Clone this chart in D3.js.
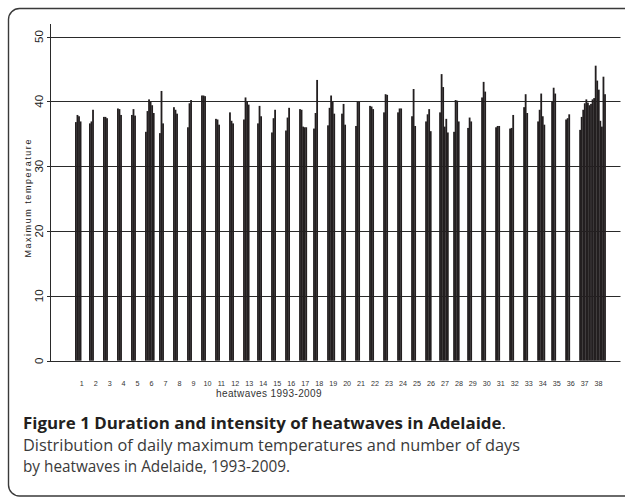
<!DOCTYPE html>
<html>
<head>
<meta charset="utf-8">
<script src="https://cdn.jsdelivr.net/npm/d3@7"></script>
<style>
  body { margin: 0; background: #fff; }
  svg { display: block; }
</style>
</head>
<body>
<div id="chart"></div>
<script>
// heatwave numbers on the x axis
const heatwaves = d3.range(1, 39);

// daily maximum temperature of each day, one array per heatwave
const dailyMax = [
  [36.8, 37.9, 37.7, 36.9],
  [36.6, 36.9, 38.7],
  [37.6, 37.6, 37.4],
  [38.9, 38.8, 37.9],
  [37.9, 38.8, 37.8],
  [35.3, 38.5, 40.3, 40.0, 39.4, 38.2],
  [35.1, 41.6, 36.6],
  [39.1, 38.7, 38.1],
  [36.0, 39.7, 40.2],
  [40.9, 40.9, 40.8],
  [37.3, 37.2, 36.4],
  [38.3, 37.0, 36.6],
  [37.2, 40.6, 40.0, 39.5],
  [36.6, 39.3, 37.7],
  [35.2, 37.4, 38.7],
  [35.5, 37.5, 39.0],
  [38.8, 38.7, 36.1, 36.0, 36.0],
  [35.8, 38.2, 43.3],
  [36.3, 39.0, 40.9, 39.9, 38.1],
  [38.1, 39.6, 36.4],
  [36.2, 40.0, 39.9],
  [39.3, 39.2, 38.8],
  [38.3, 41.1, 41.0],
  [38.3, 38.9, 38.9],
  [37.7, 41.9, 36.2],
  [36.9, 38.0, 38.8, 35.4],
  [38.3, 44.2, 42.2, 36.1, 37.3, 35.2],
  [35.3, 40.2, 40.1, 36.9],
  [35.9, 37.5, 36.9],
  [40.6, 43.0, 41.5],
  [36.0, 36.2, 36.2],
  [35.8, 35.9, 37.9],
  [39.1, 41.1, 38.2],
  [36.9, 38.7, 41.2, 37.7, 36.4],
  [40.0, 42.1, 41.2],
  [37.2, 37.4, 38.0],
  [35.6, 37.6, 38.7, 39.7, 40.3, 39.8, 39.4, 39.6, 40.3, 40.5, 45.5, 43.2, 41.8, 37.0],
  [36.1, 43.8, 41.1]
];

const yTicks = [0, 10, 20, 30, 40, 50];

const width = 625, height = 497;
const minSlots = 9; // each heatwave takes at least this many day slots

const svg = d3.select("#chart").append("svg")
  .attr("width", width)
  .attr("height", height);

// 外框
svg.append("rect")
  .attr("x", 8.5).attr("y", 8.5)
  .attr("width", 700).attr("height", 487.5)
  .attr("rx", 11)
  .attr("fill", "none")
  .attr("stroke", "#3a3a3a")
  .attr("stroke-width", 1.4);

// flatten days with slot positions
let slot = 0;
const days = [];
dailyMax.forEach((vals, i) => {
  vals.forEach((v, d) => days.push({ hw: heatwaves[i], slot: slot + d, value: v }));
  slot += Math.max(vals.length, minSlots);
});
const totalSlots = slot;

const x = d3.scaleLinear().domain([0, totalSlots]).range([75, 615]);
const xLabel = d3.scalePoint().domain(heatwaves).range([81.7, 598.6]);
const y = d3.scaleLinear().domain([0, 50]).range([360.7, 36.5]);

// gridlines
svg.append("g")
  .selectAll("line")
  .data(yTicks)
  .enter().append("line")
  .attr("x1", 47).attr("x2", 620.5)
  .attr("y1", d => Math.round(y(d)) + 0.5)
  .attr("y2", d => Math.round(y(d)) + 0.5)
  .attr("stroke", "#2a2a2a")
  .attr("stroke-width", 1);

// y axis line
svg.append("line")
  .attr("x1", 50.5).attr("x2", 50.5)
  .attr("y1", 24).attr("y2", Math.round(y(0)) + 0.5)
  .attr("stroke", "#2a2a2a");

// y tick labels (rotated)
svg.append("g")
  .selectAll("text")
  .data(yTicks)
  .enter().append("text")
  .attr("transform", d => `translate(43,${y(d)}) rotate(-90)`)
  .attr("text-anchor", "middle")
  .attr("font-family", "Liberation Sans, Arial, sans-serif")
  .attr("font-size", 11.5)
  .attr("fill", "#222")
  .text(d => d);

// y axis title
svg.append("text")
  .attr("transform", `translate(31,${y(25) + 59}) rotate(-90)`)
  .attr("font-family", "Liberation Sans, Arial, sans-serif")
  .attr("font-size", 9)
  .attr("fill", "#222")
  .attr("textLength", 118)
  .attr("lengthAdjust", "spacing")
  .text("Maximum temperature");

// bars
const bw = x(1) - x(0);
svg.append("g")
  .selectAll("rect")
  .data(days)
  .enter().append("rect")
  .attr("x", d => x(d.slot))
  .attr("width", bw + 0.25)
  .attr("y", d => y(d.value))
  .attr("height", d => y(0) - y(d.value))
  .attr("fill", "#231f20");

// x labels
svg.append("g")
  .selectAll("text")
  .data(heatwaves)
  .enter().append("text")
  .attr("x", d => xLabel(d))
  .attr("y", 385.5)
  .attr("text-anchor", "middle")
  .attr("font-family", "Liberation Sans, Arial, sans-serif")
  .attr("font-size", 7.2)
  .attr("fill", "#333")
  .text(d => d);

svg.append("text")
  .attr("x", 269).attr("y", 397)
  .attr("text-anchor", "middle")
  .attr("font-family", "Liberation Sans, Arial, sans-serif")
  .attr("font-size", 10)
  .attr("letter-spacing", 0.4)
  .attr("fill", "#333")
  .text("heatwaves 1993-2009");

// 图注
const cap = svg.append("g").attr("font-family", "Open Sans, Noto Sans, sans-serif").attr("font-size", 15.5);
const t1 = cap.append("text").attr("x", 23).attr("y", 429).attr("fill", "#231f20");
t1.append("tspan").attr("font-weight", "bold").text("Figure 1 Duration and intensity of heatwaves in Adelaide");
t1.append("tspan").text(".");
t1.attr("textLength", 483).attr("lengthAdjust", "spacingAndGlyphs");

cap.append("text").attr("x", 23).attr("y", 451).attr("fill", "#3a3a3a")
  .attr("textLength", 497).attr("lengthAdjust", "spacingAndGlyphs")
  .text("Distribution of daily maximum temperatures and number of days");
cap.append("text").attr("x", 23).attr("y", 472).attr("fill", "#3a3a3a")
  .attr("textLength", 267).attr("lengthAdjust", "spacingAndGlyphs")
  .text("by heatwaves in Adelaide, 1993-2009.");
</script>
</body>
</html>
